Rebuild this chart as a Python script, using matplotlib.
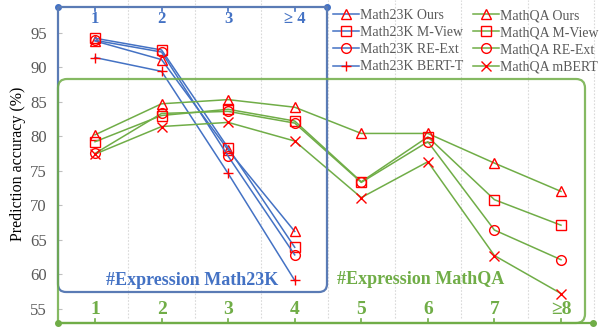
import matplotlib
matplotlib.use("Agg")
import matplotlib.pyplot as plt
from matplotlib.path import Path
from matplotlib.patches import PathPatch
from matplotlib.transforms import Affine2D
import numpy as np

plt.rcParams['font.family'] = ['Liberation Serif', 'DejaVu Serif']

# ---------------- data ----------------
m23k_x = [1, 2, 3, 4]
m23k_labels = ["1", "2", "3", "\u2265 4"]
m23k_ours = [93.8, 91.1, 78.0, 66.2]
m23k_mview = [94.2, 92.5, 78.3, 63.9]
m23k_reext = [93.9, 92.2, 77.1, 62.8]
m23k_bertt = [91.4, 89.4, 74.6, 59.1]

mqa_x = [1, 2, 3, 4, 5, 6, 7, 8]
mqa_labels = ["1", "2", "3", "4", "5", "6", "7", "\u22658"]
mqa_ours = [80.2, 84.7, 85.3, 84.2, 80.4, 80.4, 76.1, 72.0]
mqa_mview = [79.2, 83.0, 83.9, 82.2, 73.4, 79.9, 70.8, 67.1]
mqa_reext = [77.5, 83.3, 83.6, 81.9, 73.3, 79.2, 66.4, 62.1]
mqa_mbert = [77.4, 81.4, 82.0, 79.3, 71.1, 76.3, 62.7, 57.2]

yticks = [55, 60, 65, 70, 75, 80, 85, 90, 95]

BLUE = "#4472C4"
BOXBLUE = "#5A7BB5"
GREEN = "#70AD47"
RED = "#FF0000"
GRAY = "#595959"

W, H = 611, 327
fig = plt.figure(figsize=(W / 100, H / 100), dpi=100)
ax = fig.add_axes([58 / W, 0, (600 - 58) / W, 1])
ax.set_xlim(1 + (58 - 95) / 66.57, 1 + (600 - 95) / 66.57)
ax.set_ylim(95 - (327 - 32.7) / 6.9, 95 + 32.7 / 6.9)
for s in ax.spines.values():
    s.set_visible(False)

# pixel transform (top-left origin)
pix = Affine2D().scale(1 / W, -1 / H).translate(0, 1) + fig.transFigure

# grid
for gx in np.arange(1.5, 9.0, 1.0):
    ax.plot([gx, gx], [53.6, ax.get_ylim()[1]], color="#D9D9D9", lw=0.8,
            ls=(0, (1.5, 1.5)), zorder=0.5)

# y ticks
ax.set_yticks(yticks)
ax.set_yticklabels([str(v) for v in yticks])
ax.tick_params(axis='y', direction='in', length=3, color="#BFBFBF",
               labelcolor=GRAY, labelsize=12, pad=8)
ax.set_xticks([])
ax.set_ylabel("Prediction accuracy (%)", fontsize=11.5, color="black", labelpad=3)


def rounded_path(pts, r, idx):
    verts, codes = [], []
    pts = [np.array(p, float) for p in pts]
    for i, p in enumerate(pts):
        if i in idx:
            a = p + r * (pts[i - 1] - p) / np.linalg.norm(pts[i - 1] - p)
            b = p + r * (pts[i + 1] - p) / np.linalg.norm(pts[i + 1] - p)
            verts += [a, p, b]
            codes += [Path.LINETO, Path.CURVE3, Path.CURVE3]
        else:
            verts.append(p)
            codes.append(Path.MOVETO if i == 0 else Path.LINETO)
    return Path(verts, codes)


# blue box
bp = rounded_path([(58, 7), (327, 7), (327, 292), (58, 292), (58, 7)], 8, [2, 3])
fig.patches.append(PathPatch(bp, transform=pix, fill=False, edgecolor=BOXBLUE,
                             lw=1.6, zorder=3))
# green box
gp = rounded_path([(58, 323), (58, 79), (585, 79), (585, 323), (58, 323)], 9, [1, 2, 3])
fig.patches.append(PathPatch(gp, transform=pix, fill=False, edgecolor=GREEN,
                             lw=1.6, alpha=0.85, zorder=3))

ax.plot([58, 593], [323, 323], color=GREEN, lw=1.6, transform=pix, clip_on=False)
ax.plot([58, 593], [323, 323], 'o', color=GREEN, ms=4, transform=pix, clip_on=False)
ax.plot([58, 327], [7, 7], 'o', color=BLUE, ms=4, transform=pix, clip_on=False)

# category ticks & labels
y_top_line = 95 + (32.7 - 7) / 6.9
y_bot_line = 95 - (323 - 32.7) / 6.9
for x, lab in zip(m23k_x, m23k_labels):
    ax.plot([x, x], [y_top_line, y_top_line - 0.6], color=BLUE, lw=1.2, clip_on=False)
    ax.text(x, 95 - (19 - 32.7) / 6.9, lab, color=BLUE, fontsize=12,
            fontweight='bold', ha='center', va='center')
for x, lab in zip(mqa_x, mqa_labels):
    ax.plot([x, x], [y_bot_line, y_bot_line + 0.6], color=GREEN, lw=1.2, clip_on=False)
    ax.text(x, 95 - (310 - 32.7) / 6.9, lab, color=GREEN, fontsize=14,
            fontweight='bold', ha='center', va='center')

ax.text(1 + (192 - 95) / 66.57, 95 - (280 - 32.7) / 6.9, "#Expression Math23K",
        color=BLUE, fontsize=13, fontweight='bold', ha='center', va='center')
ax.text(1 + (421 - 95) / 66.57, 95 - (279 - 32.7) / 6.9, "#Expression MathQA",
        color=GREEN, fontsize=13, fontweight='bold', ha='center', va='center')

mk = dict(markerfacecolor='none', markeredgecolor=RED, markeredgewidth=1.0)
series = [
    (m23k_x, m23k_ours, BLUE, '^', "Math23K Ours"),
    (m23k_x, m23k_mview, BLUE, 's', "Math23K M-View"),
    (m23k_x, m23k_reext, BLUE, 'o', "Math23K RE-Ext"),
    (m23k_x, m23k_bertt, BLUE, '+', "Math23K BERT-T"),
    (mqa_x, mqa_ours, GREEN, '^', "MathQA Ours"),
    (mqa_x, mqa_mview, GREEN, 's', "MathQA M-View"),
    (mqa_x, mqa_reext, GREEN, 'o', "MathQA RE-Ext"),
    (mqa_x, mqa_mbert, GREEN, 'x', "MathQA mBERT"),
]
handles = []
for xs, ys, c, m, lab in series:
    h, = ax.plot(xs, ys, color=c, lw=1.1, marker=m, ms=7, label=lab, zorder=4, **mk)
    handles.append(h)

legkw = dict(loc='upper left', bbox_transform=fig.transFigure,
             frameon=False, fontsize=10, handlelength=1.9, handletextpad=0.05,
             labelspacing=0.3, borderpad=0, borderaxespad=0, markerscale=1.0)
leg1 = ax.legend(handles=handles[:4], bbox_to_anchor=(333 / W, 1 - 9 / H), **legkw)
ax.add_artist(leg1)
leg2 = ax.legend(handles=handles[4:], bbox_to_anchor=(473 / W, 1 - 9 / H), **legkw)
for lg in (leg1, leg2):
    for t in lg.get_texts():
        t.set_color(GRAY)

fig.savefig("out.png", dpi=100)
